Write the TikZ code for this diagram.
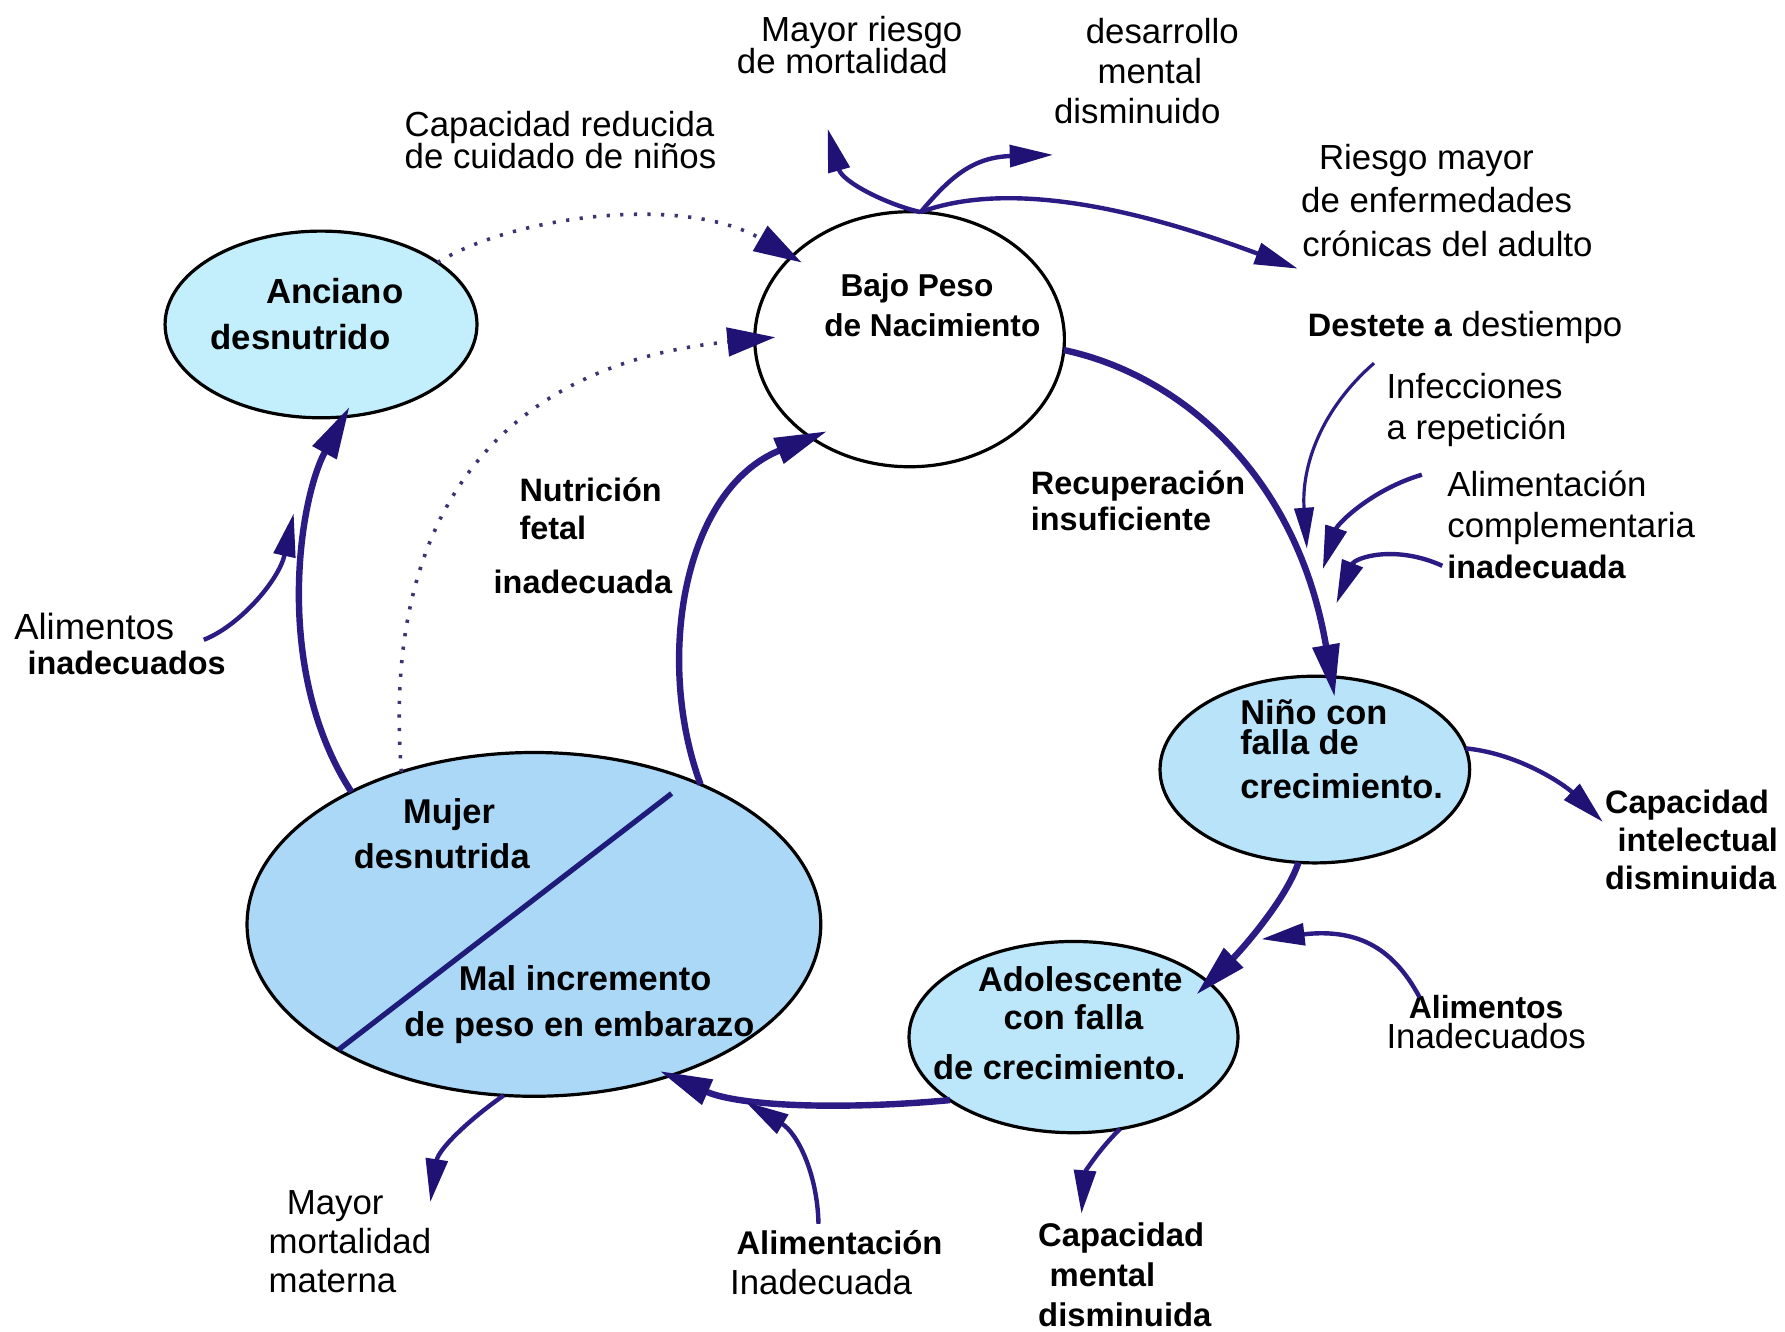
\documentclass[tikz,border=0pt]{standalone}
\usepackage{fontspec}
\setmainfont{Liberation Sans}
\usetikzlibrary{arrows.meta,shapes.geometric}
\definecolor{conn}{HTML}{2D1B85}
\definecolor{arrc}{HTML}{201274}
\definecolor{dotc}{HTML}{3A3470}
\definecolor{divc}{HTML}{1F1B7A}
\definecolor{ancf}{HTML}{C3EEFC}
\definecolor{ninf}{HTML}{B9E3F8}
\definecolor{adof}{HTML}{BCE6FA}
\definecolor{mujf}{HTML}{ABD8F6}
\newcommand{\lblfont}[2]{\fontsize{#1}{#2}\selectfont\lineskiplimit=-50pt\relax}
\begin{document}
\begin{tikzpicture}[x=0.1mm, y=-0.1mm,
  every node/.style={inner sep=0pt, outer sep=0pt, text=black},
  stage/.style={ellipse, draw=black, line width=0.8pt},
  rl/.style 2 args={font={\lblfont{#1}{#2}}},
  bl/.style 2 args={font={\lblfont{#1}{#2}\bfseries}},
  mainarr/.style={draw=conn, line width=1.6pt, -{Triangle[length=4.6mm, width=2.3mm, color=arrc]}},
  sidearr/.style={draw=conn, line width=1.1pt, -{Triangle[length=3.8mm, width=1.9mm, color=arrc]}},
  thinarr/.style={draw=conn, line width=0.8pt, -{Triangle[length=3.6mm, width=1.7mm, color=arrc]}},
  dotarr/.style={draw=dotc, line width=0.9pt, dash pattern=on 0.8pt off 2.6pt, -{Triangle[length=4.2mm, width=2.5mm, color=arrc]}},
  divline/.style={draw=divc, line width=1.3pt}
]
\fill[white] (0,0) rectangle (1568,1170);
\useasboundingbox (0,0) rectangle (1568,1170);

% stages
\node[stage, fill=ancf, minimum width=27.4mm, minimum height=16.4mm] (anc) at (282,285) {};
\node[stage, fill=white, minimum width=27.2mm, minimum height=22.4mm] (bp) at (799,298) {};
\node[stage, fill=ninf, minimum width=27.2mm, minimum height=16.4mm] (nino) at (1155,676) {};
\node[stage, fill=adof, minimum width=28.9mm, minimum height=16.8mm] (ado) at (943,911) {};
\node[stage, fill=mujf, minimum width=50.4mm, minimum height=30.2mm] (muj) at (469,812) {};
\draw[divline] (muj.center) ++(121,-115) -- ++(-292.5,225);

% stage texts
\node[bl={8.7pt}{11.7pt}, align=center] (tanc) at (279,275.8) {\hspace*{3mm}Anciano\\desnutrido\hspace*{3mm}};
\node[bl={7.9pt}{10pt}, align=center] (tbp) at (812,268) {Bajo Peso\hspace*{1.3mm}\\\hspace*{1.4mm}de Nacimiento};
\node[bl={8.6pt}{7.5pt}, align=left, anchor=west] (tnino) at (1089.5,658.1) {Niño con\\falla de\\[3.3pt]crecimiento.};
\node[bl={8.6pt}{9.6pt}, align=center] (tado) at (940,898.9) {\hspace*{1.8mm}Adolescente\\\hspace*{0.6mm}con falla\\[2.9pt]de crecimiento.\hspace*{1.9mm}};
\node[bl={8.6pt}{11.3pt}, align=center] (tmuja) at (391,732) {\hspace*{0.7mm}Mujer\\desnutrida\hspace*{0.6mm}};
\node[bl={8.6pt}{11.6pt}, align=center] (tmujb) at (511.5,882.3) {\hspace*{0.5mm}Mal incremento\\de peso en embarazo\hspace*{0.5mm}};

% labels
\node[rl={8.7pt}{8.1pt}, align=center] (t1) at (748.5,39.8) {\hspace*{1.7mm}Mayor riesgo\\de mortalidad\hspace*{1.7mm}};
\node[rl={8.7pt}{10pt}, align=center] (t2) at (1010,62) {\hspace*{2.2mm}desarrollo\\mental\\disminuido\hspace*{2.2mm}};
\node[rl={8.7pt}{7.9pt}, align=left, anchor=west] (t3) at (355.5,122.8) {Capacidad reducida\\de cuidado de niños};
\node[rl={8.7pt}{10.8pt}, align=center] (t4) at (1262,176) {Riesgo mayor\hspace*{1.8mm}\\de enfermedades\\\hspace*{1.9mm}crónicas del adulto};
\node[rl={8.7pt}{10pt}, anchor=base] (t5) at (1287,295.7) {{\lblfont{8.1pt}{10pt}\bfseries Destete a} destiempo};
\node[rl={8.7pt}{10.4pt}, align=left, anchor=west] (t6) at (1218,360.3) {Infecciones\\a repetición};
\node[rl={8.7pt}{10.2pt}, align=left, anchor=west] (t7) at (1271.4,461) {Alimentación\\complementaria\\{\lblfont{8.1pt}{10.2pt}\bfseries inadecuada}};
\node[bl={8.1pt}{8.8pt}, align=left, anchor=west] (t8) at (905.6,439.8) {Recuperación\\insuficiente};
\node[bl={8.1pt}{9.56pt}, align=left, anchor=west] (t9) at (433.7,470.5) {\hspace*{2.27mm}Nutrición\\\hspace*{2.27mm}fetal\\[3.8pt]inadecuada};
\node[rl={9.1pt}{8.8pt}, align=left, anchor=west] (t10) at (12.6,565.9) {Alimentos\\\hspace*{1.16mm}{\lblfont{8.1pt}{8.8pt}\bfseries inadecuados}};
\node[bl={8.1pt}{9.6pt}, align=left, anchor=west] (t11) at (1410,737.8) {Capacidad\\\hspace*{1.1mm}intelectual\\disminuida};
\node[rl={8.7pt}{7.5pt}, align=center] (t12) at (1305.5,897.5) {{\lblfont{8pt}{7.5pt}\bfseries Alimentos}\\Inadecuados};
\node[bl={8.2pt}{10pt}, align=left, anchor=west] (t13) at (912,1119.8) {Capacidad\\\hspace*{1mm}mental\\disminuida};
\node[rl={8.7pt}{10pt}, align=left, anchor=west] (t14) at (641.4,1109.5) {\hspace*{0.56mm}{\lblfont{8.2pt}{10pt}\bfseries Alimentación}\\Inadecuada};
\node[rl={8.7pt}{9.8pt}, align=left, anchor=west] (t15) at (236,1090.7) {\hspace*{1.6mm}Mayor\\mortalidad\\materna};

% free ends
\coordinate (cb0) at (179,562);  \coordinate (cb1) at (258,451);
\coordinate (cf1) at (727,113);  \coordinate (cf2) at (925,136);  \coordinate (cf3) at (1140,236);
\coordinate (ch0) at (1207,319); \coordinate (ch1) at (1148,482);
\coordinate (ci0) at (1249,417); \coordinate (ci1) at (1162,500);
\coordinate (cj0) at (1267,497); \coordinate (cj1) at (1174,530);
\coordinate (ck1) at (1408,722);
\coordinate (cm0) at (1247,876); \coordinate (cm1) at (1108,825);
\coordinate (co0) at (719,1075); \coordinate (co1) at (655,968);
\coordinate (cp1) at (378,1056);
\coordinate (cq1) at (950,1066);

% main cycle
\draw[mainarr, shorten >=-1mm] (muj.144) .. controls (240,590) and (262,440) .. (anc.-76);
\draw[mainarr, shorten >=-1.5mm] (muj.40) .. controls (575,580) and (600,430) .. (bp.225);
\draw[mainarr, shorten >=-1.8mm] (bp.-4) .. controls (1040,330) and (1140,420) .. (nino.80);
\draw[mainarr, shorten >=-1.5mm] (nino.260) .. controls (1130,790) and (1090,835) .. (ado.22);
\draw[mainarr, shorten >=-1mm] (ado.207) .. controls (740,975) and (650,972) .. (muj.-48);

% dotted
\draw[dotarr, shorten >=-1.8mm] (muj.131) .. controls (335,450) and (440,320) .. (bp.180);
\draw[dotarr, shorten >=-1mm] (anc.28) .. controls (450,190) and (600,170) .. (bp.145);

% side arrows
\draw[sidearr] (cb0) .. controls (210,550) and (245,510) .. (cb1);
\draw[sidearr] (bp.85) .. controls (780,180) and (740,160) .. (cf1);
\draw[sidearr] (bp.85) .. controls (835,155) and (855,138) .. (cf2);
\draw[sidearr] (bp.85) .. controls (880,160) and (985,178) .. (cf3);
\draw[thinarr] (ch0) .. controls (1160,360) and (1143,410) .. (ch1);
\draw[sidearr] (ci0) .. controls (1205,430) and (1175,460) .. (ci1);
\draw[sidearr] (cj0) .. controls (1225,478) and (1190,490) .. (cj1);
\draw[sidearr] (nino.8) .. controls (1335,662) and (1375,690) .. (ck1);
\draw[sidearr] (cm0) .. controls (1225,835) and (1195,815) .. (cm1);
\draw[sidearr] (co0) .. controls (718,1030) and (700,995) .. (co1);
\draw[sidearr] (muj.260) .. controls (410,985) and (385,1010) .. (cp1);
\draw[sidearr] (ado.-63) .. controls (965,1010) and (953,1030) .. (cq1);
\end{tikzpicture}
\end{document}
